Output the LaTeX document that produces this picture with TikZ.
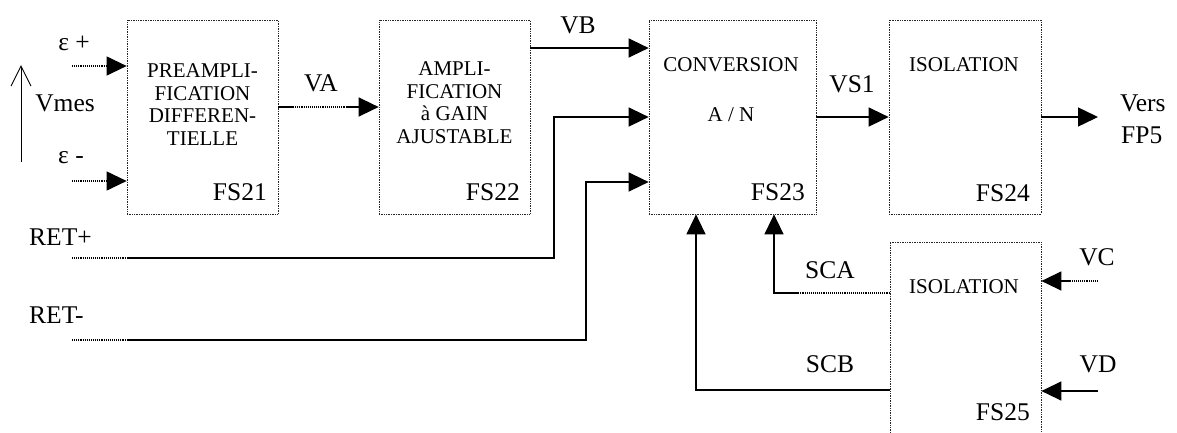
\documentclass[tikz,border=0pt]{standalone}
\usepackage{fontspec}
\setmainfont{Liberation Serif}
\usetikzlibrary{arrows.meta,calc}
\begin{document}
\begin{tikzpicture}[x=1pt,y=-1pt,
  blk/.style={draw=black!85, densely dotted, line width=0.7pt, inner sep=0pt},
  btxt/.style={font=\fontsize{21}{22.5}\selectfont, align=center, inner sep=0pt},
  lbl/.style={font=\fontsize{25.5}{27}\selectfont, inner sep=0pt},
  conn/.style={line width=1.4pt},
  dconn/.style={line width=1.1pt, densely dotted},
  tip/.style={-{Triangle[length=20pt,width=19pt]}},
]
\clip (0,0) rectangle (1177,432);
% blocks
\node[blk, minimum width=151pt, minimum height=194pt] (fs21) at (202.5,117) {};
\node[blk, minimum width=151pt, minimum height=194pt] (fs22) at (454.5,117) {};
\node[blk, minimum width=167pt, minimum height=194pt] (fs23) at (732.5,117) {};
\node[blk, minimum width=152pt, minimum height=194pt] (fs24) at (965,117) {};
\node[blk, minimum width=151pt, minimum height=200pt] (fs25) at (965.5,342) {};
% block texts
\node[btxt] (t21) at (202.5,104.5) {PREAMPLI-\\FICATION\\DIFFEREN-\\TIELLE};
\node[btxt] (t22) at (454.5,102.5) {AMPLI-\\FICATION\\à GAIN\\AJUSTABLE};
\node[btxt] (t23a) at (731,65) {CONVERSION};
\node[btxt] (t23b) at (731,115) {A / N};
\node[btxt] (t24) at (964,65) {ISOLATION};
\node[btxt] (t25) at (964,287) {ISOLATION};
\node[lbl, anchor=east] (l21) at (267,192) {FS21};
\node[lbl, anchor=east] (l22) at (520,192) {FS22};
\node[lbl, anchor=east] (l23) at (805,192) {FS23};
\node[lbl, anchor=east] (l24) at (1030,193) {FS24};
\node[lbl, anchor=east] (l25) at (1030,412) {FS25};
% signal labels
\node[lbl] (eplus) at (74,43) {ε +};
\node[lbl] (eminus) at (71,158) {ε -};
\node[lbl] (vmes) at (65,103) {Vmes};
\node[lbl] (va) at (321,83) {VA};
\node[lbl] (vb) at (578,25) {VB};
\node[lbl] (vs1) at (852,84) {VS1};
\node[lbl, anchor=west] (vers) at (1120,103) {Vers};
\node[lbl, anchor=west] (fp5) at (1121,135) {FP5};
\node[lbl, anchor=west] (retp) at (29,237) {RET+};
\node[lbl, anchor=west] (retm) at (29,315) {RET-};
\node[lbl] (sca) at (830,270) {SCA};
\node[lbl] (scb) at (830,364) {SCB};
\node[lbl] (vc) at (1097,257) {VC};
\node[lbl] (vd) at (1098,364) {VD};
% coordinates
\coordinate (vm0) at (21,162);
\coordinate (vm1) at (21,65);
\coordinate (ep) at (72,66);
\coordinate (em) at (72,181);
\coordinate (va1) at (293,107);
\coordinate (va2) at (347,107);
\coordinate (rp0) at (72,258);
\coordinate (rp1) at (128,258);
\coordinate (rpc) at (554,258);
\coordinate (rm0) at (72,340);
\coordinate (rm1) at (128,340);
\coordinate (rmc) at (586,340);
\coordinate (sca1) at (797,293);
\coordinate (vc0) at (1098,281);
\coordinate (vc1) at (1070,281);
\coordinate (vd0) at (1098,391);
\coordinate (out) at (1098,117);
% connectors
\draw[line width=1pt,-{Straight Barb[length=20pt,width=20pt]}] (vm0) -- (vm1);
\draw[dconn,tip] (ep) -- ([yshift=51pt]fs21.west);
\draw[dconn,tip] (em) -- ([yshift=-64pt]fs21.west);
\draw[conn] ([yshift=10pt]fs21.east) -- (va1);
\draw[dconn] (va1) -- (va2);
\draw[conn,tip] (va2) -- ([yshift=10pt]fs22.west);
\draw[conn,tip] ([yshift=69pt]fs22.east) -- ([yshift=69pt]fs23.west);
\draw[conn,tip] (fs23.east) -- (fs24.west);
\draw[conn,tip] (fs24.east) -- (out);
\draw[dconn] (rp0) -- (rp1);
\draw[conn,tip] (rp1) -- (rpc) |- (fs23.west);
\draw[dconn] (rm0) -- (rm1);
\draw[conn,tip] (rm1) -- (rmc) |- ([yshift=-65pt]fs23.west);
\draw[dconn] ([yshift=49pt]fs25.west) -- (sca1);
\draw[conn,tip] (sca1) -| ([xshift=41.5pt]fs23.south);
\draw[conn,tip] ([yshift=-48pt]fs25.west) -| ([xshift=-36.5pt]fs23.south);
\draw[dconn] (vc0) -- (vc1);
\draw[conn,tip] (vc1) -- ([yshift=61pt]fs25.east);
\draw[conn,tip] (vd0) -- ([yshift=-49pt]fs25.east);
\end{tikzpicture}
\end{document}
